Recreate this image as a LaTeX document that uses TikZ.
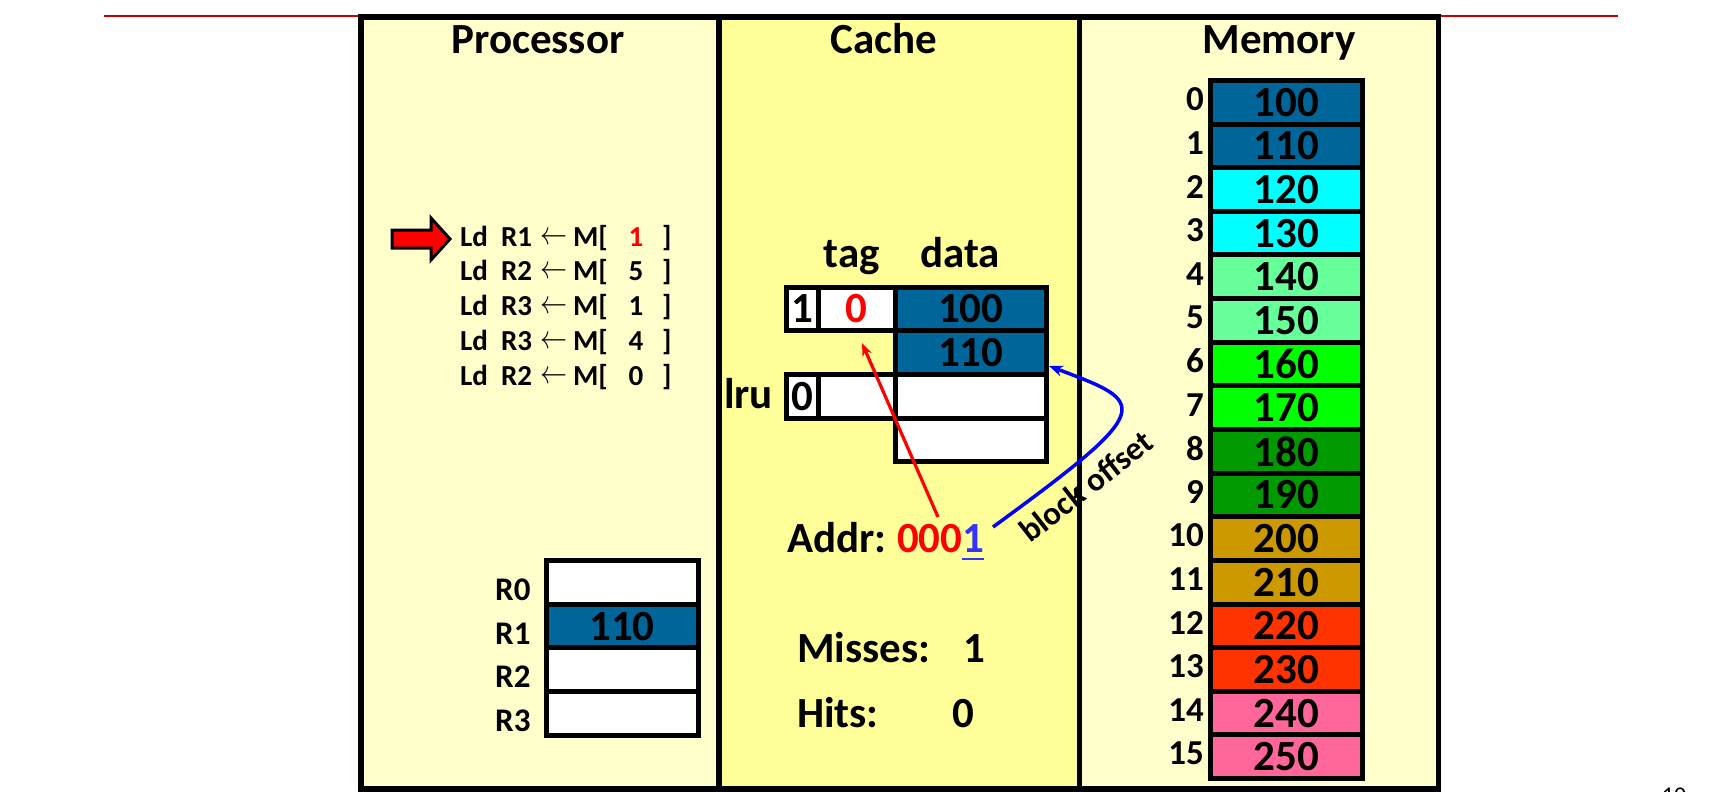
\documentclass[tikz,border=0pt]{standalone}
\usepackage{fontspec}
\setmainfont{Carlito}
\usetikzlibrary{arrows.meta}
\definecolor{procbg}{HTML}{FFFFCC}
\definecolor{cachebg}{HTML}{FFFF99}
\definecolor{blk}{HTML}{006699}
\definecolor{cyanc}{HTML}{00FFFF}
\definecolor{mint}{HTML}{66FF99}
\definecolor{lime}{HTML}{00FF00}
\definecolor{dgreen}{HTML}{009900}
\definecolor{ochre}{HTML}{CC9900}
\definecolor{orred}{HTML}{FF3300}
\definecolor{pinkc}{HTML}{FF6699}
\definecolor{linkblue}{HTML}{3333FF}
\definecolor{topred}{HTML}{CC0000}
\begin{document}
\begin{tikzpicture}[x=1pt,y=-1pt,
  cell/.style={draw=black, line width=5pt, fill=white, inner sep=0pt, outer sep=0pt,
    font=\fontsize{43}{50}\selectfont\bfseries},
  big/.style={font=\fontsize{43}{50}\selectfont\bfseries, inner sep=0pt, outer sep=0pt},
  instr/.style={font=\fontsize{29}{33}\selectfont\bfseries, inner sep=0pt, outer sep=0pt},
  reglbl/.style={font=\fontsize{33}{38}\selectfont\bfseries, inner sep=0pt, anchor=base west},
  memlbl/.style={font=\fontsize{35}{40}\selectfont\bfseries, inner sep=0pt, anchor=east},
  frameline/.style={line width=5.5pt, draw=black},
  redptr/.style={draw=red, line width=3.2pt, -{Stealth[length=13pt,width=10pt]}},
  blueptr/.style={draw=blue, line width=3.5pt, -{Stealth[length=14pt,width=11pt]}}
]
\useasboundingbox (0,0) rectangle (1714,792);
\fill[white] (0,0) rectangle (1714,792);
% top red rule
\draw[topred, line width=1.5pt] (104,16) -- (1618,16);
% panels
\fill[procbg] (361,17) rectangle (719,789);
\fill[cachebg] (719,17) rectangle (1079.5,789);
\fill[procbg] (1079.5,17) rectangle (1438.5,789);
\draw[frameline] (361,17) rectangle (1438.5,789);
\draw[frameline] (719,17) -- (719,789);
\draw[frameline] (1079.5,17) -- (1079.5,789);
% titles
\node[big, anchor=base] (tproc) at (538,54) {Processor};
\node[big, anchor=base] (tcache) at (884,54) {Cache};
\node[big, anchor=base] (tmem) at (1279,54) {Memory};
% instruction pointer arrow
\draw[fill=red, draw=black, line width=3pt, line join=miter]
  (392,230) -- (431,230) -- (431,218) -- (450,239) -- (431,260) -- (431,248) -- (392,248) -- cycle;
% instructions
\foreach \r/\m/\c [count=\k from 0] in {1/1/red,2/5/black,3/1/black,3/4/black,2/0/black}{
  \node[instr, anchor=base west] (ld\k) at (460,{246+34.8*\k}) {Ld};
  \node[instr, anchor=base west] (rg\k) at (501,{246+34.8*\k}) {R\r};
  \node[inner sep=0pt, anchor=center] (ar\k) at (554,{238+34.8*\k}) {\resizebox{27pt}{12pt}{$\leftarrow$}};
  \node[instr, anchor=base west] (mb\k) at (573,{246+34.8*\k}) {M[};
  \node[instr, anchor=base, text=\c] (ad\k) at (636,{246+34.8*\k}) {\m};
  \node[instr, anchor=base west] (cb\k) at (662,{246+34.8*\k}) {]};
}
% registers
\foreach \n/\v/\f [count=\k from 0] in {R0//white,R1/110/blk,R2//white,R3//white}{
  \node[cell, fill=\f, minimum width=152pt, minimum height=43.6pt] (reg\k) at (622,{582.5+43.6*\k}) {\v};
  \node[reglbl] (rl\k) at (495,{600.5+43.6*\k}) {\n};
}
% cache
\node[big, anchor=base] (htag) at (852,267) {tag};
\node[big, anchor=base] (hdata) at (960,267) {data};
\node[cell, minimum width=32pt, minimum height=43.7pt] (v1) at (802,308.85) {1};
\node[cell, minimum width=77pt, minimum height=43.7pt, text=red] (t1) at (856.5,308.85) {0};
\node[cell, fill=blk, minimum width=151.7pt, minimum height=43.7pt] (d1) at (970.85,308.85) {100};
\node[cell, fill=blk, minimum width=151.7pt, minimum height=43.7pt] (d2) at (970.85,352.55) {110};
\node[cell, minimum width=32pt, minimum height=43.7pt] (v3) at (802,396.2) {0};
\node[cell, minimum width=77pt, minimum height=43.7pt] (t3) at (856.5,396.2) {};
\node[cell, minimum width=151.7pt, minimum height=43.7pt] (d3) at (970.85,396.2) {};
\node[cell, minimum width=151.7pt, minimum height=43.7pt] (d4) at (970.85,439.9) {};
\node[big, anchor=base east] (lru) at (773,408) {lru};
% address
\node[big, anchor=base west] (addr) at (787,552) {Addr:};
\node[big, anchor=base west, text=red] (zeros) at (897,552) {000};
\node[big, anchor=base west, text=linkblue] (one) at (zeros.base east) {1};
\draw[linkblue, line width=2.5pt] ([yshift=-7pt]one.base west) -- ([yshift=-7pt]one.base east);
% counters
\node[big, anchor=base west] (misses) at (797,662) {Misses:};
\node[big, anchor=base west] (missn) at (963,662) {1};
\node[big, anchor=base west] (hits) at (797,727) {Hits:};
\node[big, anchor=base west] (hitn) at (952,727) {0};
% pointers
\coordinate (rtail) at (938,517);
\coordinate (rhead) at (862,343);
\draw[redptr] (rtail) -- (rhead);
\coordinate (btail) at (993,527);
\coordinate (bhead) at (1049,366);
\draw[blueptr] (btail) .. controls (1159,406) and (1147,403) .. (bhead);
\node[font=\fontsize{33}{38}\selectfont\bfseries, inner sep=0pt, rotate=38] (boff) at (1086,486) {block offset};
% memory
\foreach \v/\c [count=\i from 0] in {100/blk,110/blk,120/cyanc,130/cyanc,140/mint,150/mint,160/lime,170/lime,180/dgreen,190/dgreen,200/ochre,210/ochre,220/orred,230/orred,240/pinkc,250/pinkc}{
  \node[cell, fill=\c, minimum width=151.5pt, minimum height=43.625pt] (m\i) at (1286.25,{102.31+43.625*\i}) {\v};
  \node[memlbl] (ml\i) at (1204,{99.3+43.625*\i}) {\i};
}
% page number (cut off)
\node[font=\fontsize{24}{28}\selectfont, inner sep=0pt, anchor=north] (pgno) at (1674,788) {10};
\end{tikzpicture}
\end{document}
